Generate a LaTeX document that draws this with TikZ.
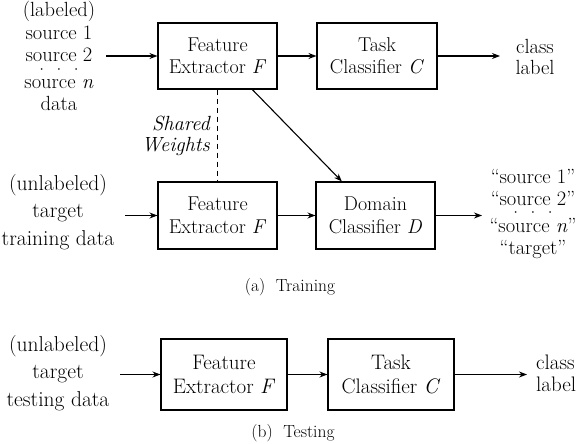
\documentclass[tikz,border=0pt]{standalone}
\usepackage{fontspec}
\usetikzlibrary{arrows.meta,calc}
\newcommand{\mydots}{\textperiodcentered\kern2.5pt\textperiodcentered\kern2.5pt\textperiodcentered}
\begin{document}
\begin{tikzpicture}[x=1pt,y=-1pt,
  box/.style={draw, line width=1.1pt, minimum width=119pt, minimum height=66pt, align=center, inner sep=0pt, font=\fontsize{20}{22.5}\selectfont},
  boxb/.style={box, minimum width=126pt, minimum height=71pt, font=\fontsize{21}{24}\selectfont},
  lbl/.style={align=center, inner sep=0pt, font=\fontsize{20.5}{23.5}\selectfont},
  line/.style={inner sep=0pt, anchor=base, font=\fontsize{20.5}{23.5}\selectfont},
  lblb/.style={align=center, inner sep=0pt, font=\fontsize{21.5}{27.5}\selectfont},
  captext/.style={inner sep=0pt, font=\fontsize{17.5}{20}\selectfont},
  arr/.style={line width=1.1pt, -{Stealth[length=8pt,width=6pt]}}]
\useasboundingbox (0,0) rectangle (582,444);

% ---- (a) Training ----
\node[box] (fe1) at (217.5,56) {Feature\\Extractor \textit{F}};
\node[box, minimum width=120pt] (tc1) at (377,56) {Task\\Classifier \textit{C}};
\node[box, minimum height=67pt] (fe2) at (217.5,215.5) {Feature\\Extractor \textit{F}};
\node[box, minimum height=67pt] (dc) at (375.5,215.5) {Domain\\Classifier \textit{D}};

% labeled source data (one node per line)
\node[line] (srcA) at (59,17) {(labeled)};
\node[line] (srcB) at (59,40) {source 1};
\node[line] (srcC) at (59,62) {source 2};
\node[line] (srcD) at (59,77) {\mydots};
\node[line] (srcE) at (59,89) {source \textit{n}};
\node[line] (srcF) at (59,111) {data};

\node[lblb] (tgt) at (58,212) {(unlabeled)\\target\\training data};
\node[lbl, font=\fontsize{20.5}{21}\selectfont] (cl1) at (535,57) {class\\label};

% domain labels (one node per line)
\node[line] (domA) at (533,183) {``source 1''};
\node[line] (domB) at (533,205) {``source 2''};
\node[line] (domC) at (533,219) {\mydots};
\node[line] (domD) at (533,232) {``source \textit{n}''};
\node[line] (domE) at (533,254) {``target''};

\node[lbl, anchor=east, align=right, font=\fontsize{20.5}{21}\selectfont\itshape] (sw) at (210,136) {Shared\\Weights};

\coordinate (in1) at (106,56);
\coordinate (in2) at (125,215.5);
\coordinate (o1) at (500,56);
\coordinate (o2) at (482,215.5);

\draw[arr] (in1) -- (fe1);
\draw[arr] (fe1) -- (tc1);
\draw[arr] (tc1) -- (o1);
\draw[arr] (in2) -- (fe2);
\draw[arr] (fe2) -- (dc);
\draw[arr] (dc) -- (o2);
\draw[arr] ($(fe1.south west)!0.79!(fe1.south east)$) -- ($(dc.north west)!0.22!(dc.north east)$);
\draw[line width=0.9pt, dash pattern=on 5pt off 4pt] (fe1.south) -- (fe2.north);

\node[captext] (capa) at (290,287) {(a)\ \ Training};

% ---- (b) Testing ----
\node[boxb] (fe3) at (224,374.5) {Feature\\Extractor \textit{F}};
\node[boxb] (tc3) at (391,374.5) {Task\\Classifier \textit{C}};
\node[lblb] (tst) at (58,373) {(unlabeled)\\target\\testing data};
\node[lbl, anchor=west, align=left, font=\fontsize{21}{22}\selectfont] (cl3) at (536,373) {class\\label};
\coordinate (in3) at (120,374.5);
\coordinate (o3) at (527,374.5);
\draw[arr] (in3) -- (fe3);
\draw[arr] (fe3) -- (tc3);
\draw[arr] (tc3) -- (o3);

\node[captext] (capb) at (293,433) {(b)\ \ Testing};
\end{tikzpicture}
\end{document}
